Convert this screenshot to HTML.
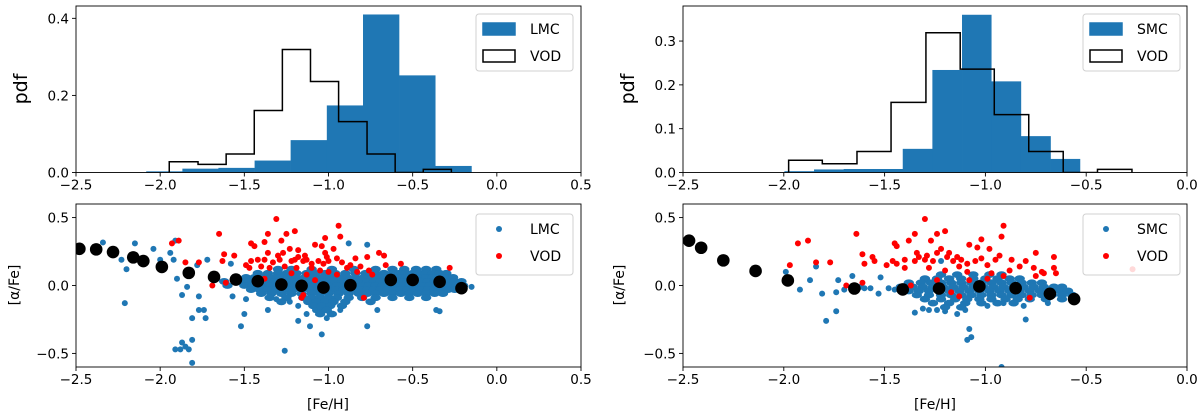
<!DOCTYPE html>
<html><head><meta charset="utf-8">
<style>
html,body{margin:0;padding:0;background:#fff;}
svg{display:block;font-family:"DejaVu Sans","Liberation Sans",sans-serif;}
</style></head>
<body>
<svg id="fig" width="1200" height="417" viewBox="0 0 1200 417" xmlns="http://www.w3.org/2000/svg"></svg>
<script>
// ---- histogram data ----
const lmcEdges = [-2.083,-1.868,-1.654,-1.439,-1.225,-1.010,-0.795,-0.581,-0.366,-0.151];
const lmcHeights = [0.003,0.010,0.012,0.031,0.084,0.174,0.410,0.252,0.017];
const vodLEdges = [-1.946,-1.775,-1.608,-1.441,-1.274,-1.107,-0.940,-0.771,-0.604,-0.437,-0.270];
const vodLHeights = [0.028,0.021,0.048,0.161,0.319,0.236,0.132,0.048,0.0,0.008];
const smcEdges = [-1.997,-1.850,-1.703,-1.556,-1.410,-1.263,-1.116,-0.971,-0.824,-0.677,-0.531];
const smcHeights = [0.003,0.007,0.008,0.008,0.054,0.234,0.360,0.208,0.083,0.031];
const vodREdges = [-1.976,-1.809,-1.637,-1.468,-1.295,-1.125,-0.956,-0.785,-0.614,-0.444,-0.273];
const vodRHeights = [0.028,0.020,0.048,0.160,0.319,0.236,0.132,0.048,0.0,0.007];
// ---- trend (black) points ----
const lmcTrendX = [-2.48,-2.38,-2.28,-2.16,-2.10,-1.99,-1.83,-1.68,-1.55,-1.42,-1.28,-1.16,-1.03,-0.87,-0.63,-0.50,-0.34,-0.21];
const lmcTrendY = [0.270,0.266,0.246,0.207,0.180,0.137,0.093,0.063,0.044,0.032,0.007,-0.002,-0.015,0.002,0.041,0.041,0.027,-0.020];
const smcTrendX = [-2.47,-2.41,-2.30,-2.14,-1.98,-1.65,-1.41,-1.23,-1.03,-0.85,-0.68,-0.56];
const smcTrendY = [0.330,0.278,0.185,0.107,0.037,-0.022,-0.029,-0.022,-0.007,-0.020,-0.061,-0.100];
// ---- LMC stars ----
const lmcOutX = [-2.34,-2.23,-2.21,-2.20,-2.15,-2.04,-2.0,-1.94,-1.92,-1.91,-1.9,-1.91,-1.88,-1.87,-1.85,-1.83,-1.81,-1.81,-1.81,-1.84,-1.87,-1.77,-1.73,-1.74,-1.77,-1.78,-1.72,-1.67,-1.57,-1.52,-1.50,-1.49,-1.58,-1.36,-1.26,-1.31,-1.18,-1.11,-1.04,-1.01,-1.13,-1.08,-0.77,-0.71,-0.88,-0.77,-0.36,-0.34,-0.15,-0.93,-0.97,-1.18,-1.23];
const lmcOutY = [0.317,0.19,-0.13,0.12,0.31,0.27,0.19,0.24,0.19,0.33,0.05,-0.47,-0.47,-0.42,-0.45,-0.47,-0.57,-0.40,-0.24,-0.01,-0.07,-0.08,-0.24,-0.18,-0.18,0.15,0.19,0.08,-0.08,-0.30,-0.21,-0.10,0.16,-0.18,-0.48,-0.10,-0.26,-0.30,-0.36,-0.24,-0.21,-0.18,-0.30,-0.18,0.31,0.30,-0.18,-0.19,-0.01,-0.18,-0.13,-0.15,-0.12];
const lmcCoreY = [0.12,0.09,0.06,0.03,0.00,-0.03,-0.06,-0.09,-0.12,-0.15,-0.18,-0.21];
const lmcCoreX = [
[-1.30,-1.22,-1.10,-0.98,-0.85,-0.72,-0.62,-0.55,-0.48,-0.42,-0.36],
[-1.42,-1.36,-1.30,-1.25,-1.19,-1.13,-1.08,-1.02,-0.96,-0.90,-0.84,-0.78,-0.72,-0.67,-0.62,-0.58,-0.54,-0.50,-0.46,-0.42,-0.38,-0.34,-0.30],
[-1.55,-1.49,-1.44,-1.39,-1.34,-1.29,-1.24,-1.19,-1.14,-1.09,-1.04,-0.99,-0.94,-0.89,-0.84,-0.79,-0.74,-0.70,-0.66,-0.62,-0.58,-0.54,-0.50,-0.46,-0.42,-0.38,-0.34,-0.30,-0.26],
[-1.62,-1.52,-1.47,-1.42,-1.37,-1.32,-1.27,-1.22,-1.17,-1.12,-1.07,-1.02,-0.97,-0.92,-0.87,-0.82,-0.77,-0.73,-0.69,-0.65,-0.61,-0.57,-0.53,-0.49,-0.45,-0.41,-0.37,-0.33,-0.29,-0.25,-0.21],
[-1.60,-1.50,-1.45,-1.40,-1.35,-1.30,-1.25,-1.20,-1.15,-1.10,-1.05,-1.00,-0.95,-0.90,-0.85,-0.80,-0.76,-0.72,-0.68,-0.64,-0.60,-0.56,-0.52,-0.48,-0.44,-0.40,-0.36,-0.32,-0.28,-0.24,-0.20],
[-1.46,-1.41,-1.36,-1.31,-1.26,-1.21,-1.16,-1.11,-1.06,-1.01,-0.96,-0.91,-0.86,-0.81,-0.77,-0.73,-0.69,-0.65,-0.61,-0.57,-0.53,-0.49,-0.45,-0.41,-0.37,-0.33,-0.29,-0.25],
[-1.40,-1.34,-1.28,-1.22,-1.16,-1.10,-1.05,-1.00,-0.94,-0.88,-0.82,-0.77,-0.72,-0.67,-0.62,-0.57,-0.52,-0.47,-0.42,-0.37,-0.32],
[-1.35,-1.25,-1.15,-1.10,-1.05,-1.00,-0.95,-0.88,-0.80,-0.72,-0.62,-0.52,-0.42],
[-1.28,-1.12,-1.07,-1.02,-0.97,-0.90,-0.75],
[-1.09,-1.04,-0.99,-0.92],
[-1.06,-1.01],
[-1.05,-0.98]];
const vodLX = [-1.31,-0.94,-1.65,-1.36,-1.25,-1.20,-0.93,-1.02,-1.93,-1.89,-1.46,-1.38,-1.28,-1.08,-1.04,-1.44,-1.23,-1.18,-0.97,-1.02,-0.70,-0.67,-1.62,-1.56,-1.36,-1.30,-1.27,-1.18,-1.14,-1.01,-0.95,-0.84,-0.77,-1.85,-1.77,-1.63,-1.49,-1.46,-1.42,-1.38,-1.33,-1.29,-1.22,-1.20,-1.15,-1.13,-1.10,-1.06,-1.03,-1.00,-0.92,-0.87,-0.81,-0.76,-1.47,-1.40,-1.35,-1.26,-1.19,-1.10,-1.05,-1.0,-0.95,-0.89,-0.83,-0.28,-0.74,-1.69,-1.61,-1.57,-1.15,-1.16,-1.08,-0.79,-0.57,-0.66,-1.38,-1.22,-1.13];
const vodLY = [0.49,0.44,0.38,0.38,0.38,0.40,0.36,0.35,0.31,0.33,0.31,0.32,0.33,0.30,0.29,0.29,0.27,0.26,0.27,0.24,0.24,0.22,0.23,0.22,0.24,0.22,0.24,0.21,0.22,0.21,0.20,0.20,0.21,0.17,0.17,0.18,0.15,0.18,0.19,0.19,0.17,0.19,0.18,0.19,0.18,0.19,0.16,0.18,0.16,0.18,0.17,0.15,0.14,0.11,0.13,0.14,0.13,0.14,0.13,0.13,0.11,0.10,0.08,0.13,0.10,0.13,0.08,0.0,0.02,0.04,-0.07,-0.09,0.04,-0.09,0.16,0.15,0.05,0.09,0.08];
// ---- SMC stars ----
const smcOutX = [-1.99,-1.92,-1.87,-1.84,-1.81,-1.79,-1.74,-1.74,-1.73,-1.70,-1.66,-1.62,-1.60,-1.57,-1.53,-1.52,-1.48,-1.45,-1.35,-1.31,-1.28,-1.08,-1.09,-1.07,-0.92,-0.81,-0.80,-0.69,-1.10,-1.14,-1.20,-1.24,-0.99,-0.91,-1.22];
const smcOutY = [0.10,-0.03,0.04,0.14,-0.06,-0.26,-0.19,-0.05,0.04,-0.03,0.07,-0.01,-0.02,-0.02,-0.06,0.06,-0.02,-0.03,-0.20,-0.17,-0.18,-0.32,-0.40,-0.38,-0.60,-0.15,-0.25,-0.13,-0.18,-0.21,-0.19,-0.18,-0.15,-0.13,0.18];
const smcCoreY = [0.08,0.05,0.02,-0.01,-0.04,-0.07,-0.10,-0.13,-0.16];
const smcCoreX = [
[-1.22,-1.14,-1.06,-0.98,-0.92],
[-1.30,-1.24,-1.18,-1.12,-1.06,-1.00,-0.94,-0.88,-0.83],
[-1.38,-1.32,-1.27,-1.22,-1.17,-1.12,-1.07,-1.02,-0.97,-0.92,-0.87,-0.82,-0.77,-0.72],
[-1.42,-1.36,-1.31,-1.26,-1.21,-1.16,-1.11,-1.06,-1.01,-0.96,-0.91,-0.86,-0.81,-0.76,-0.71,-0.66,-0.62],
[-1.38,-1.33,-1.28,-1.23,-1.18,-1.13,-1.08,-1.03,-0.98,-0.93,-0.88,-0.83,-0.78,-0.73,-0.68,-0.63,-0.59],
[-1.34,-1.28,-1.22,-1.17,-1.12,-1.07,-1.02,-0.97,-0.92,-0.87,-0.82,-0.77,-0.72,-0.67,-0.62,-0.57],
[-1.30,-1.22,-1.15,-1.09,-1.03,-0.97,-0.90,-0.84,-0.78,-0.70,-0.62,-0.56],
[-1.26,-1.18,-1.10,-1.02,-0.94,-0.86],
[-1.20,-1.12]];
const vodRX = [-1.30,-0.91,-1.64,-1.35,-1.24,-1.20,-0.92,-1.02,-1.93,-1.88,-1.45,-1.38,-1.27,-1.08,-1.04,-1.44,-1.22,-1.18,-0.98,-0.75,-0.66,-1.61,-1.56,-1.34,-1.29,-1.24,-1.14,-0.93,-0.87,-0.80,-1.97,-1.84,-1.77,-1.60,-1.55,-1.49,-1.46,-1.44,-1.40,-1.35,-1.33,-1.30,-1.26,-1.19,-1.16,-1.12,-1.09,-1.05,-1.02,-0.99,-0.95,-0.88,-0.83,-0.76,-0.72,-0.66,-0.65,-0.27,-1.40,-1.28,-1.20,-1.13,-1.09,-0.97,-0.91,-1.24,-1.08,-0.99,-1.69,-1.61,-1.37,-1.17,-1.13,-0.78,-0.75,-0.71];
const vodRY = [0.49,0.44,0.38,0.38,0.38,0.40,0.36,0.34,0.31,0.33,0.31,0.33,0.33,0.30,0.28,0.29,0.27,0.24,0.27,0.24,0.21,0.23,0.21,0.24,0.22,0.24,0.21,0.22,0.19,0.18,0.15,0.17,0.17,0.16,0.18,0.15,0.18,0.16,0.19,0.18,0.21,0.19,0.18,0.21,0.18,0.19,0.16,0.18,0.20,0.15,0.19,0.11,0.14,0.13,0.10,0.13,0.09,0.12,0.13,0.13,0.11,0.14,0.10,0.09,0.07,0.04,0.04,0.05,0.0,0.02,0.0,-0.05,-0.08,-0.09,0.07,0.09];
// ---- axis ticks ----
const xTicksL = [-2.5,-2.0,-1.5,-1.0,-0.5,0.0,0.5];
const xTicksR = [-2.5,-2.0,-1.5,-1.0,-0.5,0.0];
const yTicksTL = [0.0,0.2,0.4];
const yTicksTR = [0.0,0.1,0.2,0.3];
const yTicksB = [-0.5,0.0,0.5];

const NS = "http://www.w3.org/2000/svg";
const svg = document.getElementById('fig');
function el(tag, attrs, parent){
  const e = document.createElementNS(NS, tag);
  for (const k in attrs) e.setAttribute(k, attrs[k]);
  (parent||svg).appendChild(e);
  return e;
}
function fmt(v, d){ const s = Math.abs(v).toFixed(d); return (v < 0 ? '\u2212' : '') + s; }

function makePanel(name, x0, x1, y0, y1, xlim, ylim){
  const g = el('g', {});
  
  
  const sx = v => x0 + (v - xlim[0]) / (xlim[1] - xlim[0]) * (x1 - x0);
  const sy = v => y1 - (v - ylim[0]) / (ylim[1] - ylim[0]) * (y1 - y0);
  const clipId = name + '-clip';
  const cp = el('clipPath', {id: clipId}, g);
  el('rect', {x: x0, y: y0, width: x1 - x0, height: y1 - y0}, cp);
  const plot = el('g', {'clip-path': 'url(#' + clipId + ')'}, g);
  
  
  return {g, plot, sx, sy, x0, x1, y0, y1};
}
function drawAxes(p, xt, yt, yd, name){
  const fr = el('rect', {x: p.x0, y: p.y0, width: p.x1 - p.x0, height: p.y1 - p.y0, fill: 'none', stroke: '#000', 'stroke-width': 0.9}, p.g);
  
  
  xt.forEach(v => {
    const x = p.sx(v);
    el('line', {x1: x, x2: x, y1: p.y1, y2: p.y1 + 4, stroke: '#000', 'stroke-width': 0.9}, p.g);
    const t = el('text', {x: x, y: p.y1 + 17, 'font-size': 13.5, 'text-anchor': 'middle', fill: '#000'}, p.g);
    t.textContent = fmt(v, 1);
    
    
  });
  yt.forEach(v => {
    const y = p.sy(v);
    el('line', {x1: p.x0 - 4, x2: p.x0, y1: y, y2: y, stroke: '#000', 'stroke-width': 0.9}, p.g);
    const t = el('text', {x: p.x0 - 7, y: y + 5, 'font-size': 13.5, 'text-anchor': 'end', fill: '#000'}, p.g);
    t.textContent = fmt(v, yd);
    
    
  });
}
function drawBars(p, edges, h, name){
  h.forEach((v, i) => {
    const r = el('rect', {x: p.sx(edges[i]), y: p.sy(v), width: p.sx(edges[i+1]) - p.sx(edges[i]) + 0.3, height: p.sy(0) - p.sy(v), fill: '#1f77b4'}, p.plot);
    
    
  });
}
function drawStep(p, edges, h, name){
  let d = 'M' + p.sx(edges[0]) + ',' + p.sy(0);
  h.forEach((v, i) => {
    d += ' L' + p.sx(edges[i]) + ',' + p.sy(v) + ' L' + p.sx(edges[i+1]) + ',' + p.sy(v);
  });
  d += ' L' + p.sx(edges[edges.length-1]) + ',' + p.sy(0);
  const path = el('path', {d: d, fill: 'none', stroke: '#000', 'stroke-width': 1.5}, p.plot);
  
  
}
function drawPts(p, xs, ys, r, color, name){
  xs.forEach((x, i) => {
    const c = el('circle', {cx: p.sx(x), cy: p.sy(ys[i]), r: r, fill: color}, p.plot);
    
    
  });
}
function drawCore(p, rowsY, rowsX, color, name){
  rowsY.forEach((y, j) => {
    rowsX[j].forEach(x => {
      const c = el('ellipse', {cx: p.sx(x), cy: p.sy(y), rx: 5.2, ry: 3.4, fill: color}, p.plot);
      
      
    });
  });
}
function legend(x, y, w, h, items, kind, name){
  const g = el('g', {});
  
  
  el('rect', {x: x, y: y, width: w, height: h, rx: 3, fill: '#fff', 'fill-opacity': 0.85, stroke: '#d0d0d0', 'stroke-width': 1}, g);
  items.forEach((it, i) => {
    const cy = y + 15 + i * 27;
    if (kind === 'hist') {
      const r = el('rect', {x: x + 7, y: cy - 6, width: 32, height: 12, fill: it.fill, stroke: it.stroke, 'stroke-width': 1.5}, g);
      
      
    } else {
      const c = el('circle', {cx: x + 23, cy: cy, r: 3, fill: it.fill}, g);
      
      
    }
    const t = el('text', {x: x + 54, y: cy + 5, 'font-size': 14, fill: '#000'}, g);
    t.textContent = it.label;
    
    
  });
}
function label(txt, x, y, size, rot, name){
  const t = el('text', {x: x, y: y, 'font-size': size, 'text-anchor': 'middle', fill: '#000', transform: rot ? 'rotate(-90 ' + x + ' ' + y + ')' : ''});
  t.textContent = txt;
  
  
}

// Top-left histogram
const tl = makePanel('lmc-histogram', 76, 581, 6, 172.5, [-2.5, 0.5], [0, 0.432]);
drawBars(tl, lmcEdges, lmcHeights, 'lmc');
drawStep(tl, vodLEdges, vodLHeights, 'vod-step-left');
drawAxes(tl, xTicksL, yTicksTL, 1, 'lmc-histogram');
legend(476, 14, 97, 57, [{fill:'#1f77b4', stroke:'#1f77b4', label:'LMC'}, {fill:'#fff', stroke:'#000', label:'VOD'}], 'hist', 'legend-top-left');
label('pdf', 27, 89, 19, true, 'y-axis-title-pdf-left');

// Top-right histogram
const tr = makePanel('smc-histogram', 683, 1187, 6, 172.5, [-2.5, 0.0], [0, 0.38]);
drawBars(tr, smcEdges, smcHeights, 'smc');
drawStep(tr, vodREdges, vodRHeights, 'vod-step-right');
drawAxes(tr, xTicksR, yTicksTR, 1, 'smc-histogram');
legend(1083, 14, 97, 57, [{fill:'#1f77b4', stroke:'#1f77b4', label:'SMC'}, {fill:'#fff', stroke:'#000', label:'VOD'}], 'hist', 'legend-top-right');
label('pdf', 634, 89, 19, true, 'y-axis-title-pdf-right');

// Bottom-left scatter
const bl = makePanel('lmc-scatter', 76, 581, 204, 367, [-2.5, 0.5], [-0.6, 0.6]);
drawCore(bl, lmcCoreY, lmcCoreX, '#1f77b4', 'lmc-star');
drawPts(bl, lmcOutX, lmcOutY, 3, '#1f77b4', 'lmc-star');
drawPts(bl, vodLX, vodLY, 3, '#ff0000', 'vod-star');
drawPts(bl, lmcTrendX, lmcTrendY, 6.3, '#000', 'lmc-trend-point');
drawAxes(bl, xTicksL, yTicksB, 1, 'lmc-scatter');
legend(476, 214, 97, 61, [{fill:'#1f77b4', label:'LMC'}, {fill:'#ff0000', label:'VOD'}], 'pt', 'legend-bottom-left');
label('[\u03b1/Fe]', 19, 285, 14, true, 'y-axis-title-alpha-left');
label('[Fe/H]', 328, 409, 14, false, 'x-axis-title-left');

// Bottom-right scatter
const br = makePanel('smc-scatter', 683, 1187, 204, 367, [-2.5, 0.0], [-0.6, 0.6]);
drawCore(br, smcCoreY, smcCoreX, '#1f77b4', 'smc-star');
drawPts(br, smcOutX, smcOutY, 3, '#1f77b4', 'smc-star');
drawPts(br, vodRX, vodRY, 3, '#ff0000', 'vod-star');
drawPts(br, smcTrendX, smcTrendY, 6.3, '#000', 'smc-trend-point');
drawAxes(br, xTicksR, yTicksB, 1, 'smc-scatter');
legend(1083, 214, 97, 61, [{fill:'#1f77b4', label:'SMC'}, {fill:'#ff0000', label:'VOD'}], 'pt', 'legend-bottom-right');
label('[\u03b1/Fe]', 624, 285, 14, true, 'y-axis-title-alpha-right');
label('[Fe/H]', 935, 409, 14, false, 'x-axis-title-right');
</script>
</body></html>
